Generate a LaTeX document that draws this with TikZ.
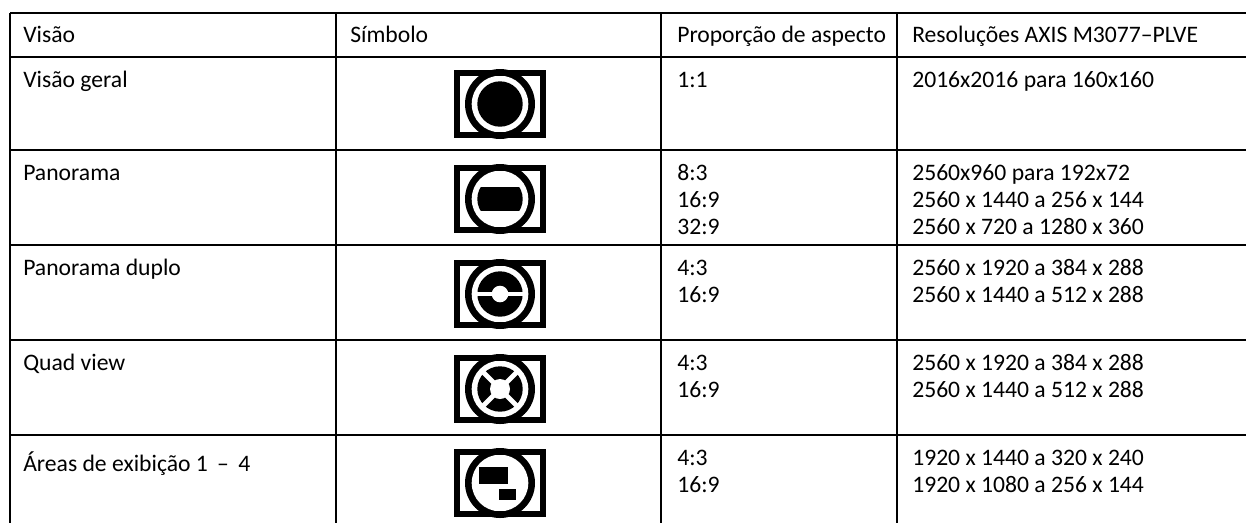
\documentclass[tikz,border=0pt]{standalone}
\usepackage{fontspec}
\setmainfont{Carlito}
\tikzset{x=0.0264583cm,y=-0.0264583cm,
 rule/.style={line width=1.6pt,black},
 lab/.style={anchor=base west,inner sep=0pt,font=\fontsize{17.8pt}{20pt}\selectfont,text=black}}
\newcommand{\icon}[2]{%
 \begin{scope}[shift={(454,#1)}]
 \fill[black] (0,0) rectangle (92,68);
 \fill[white] (5.7,5.7) rectangle (86.3,62.3);
 \fill[black] (46,34) circle (35);
 \fill[white] (46,34) circle (28.3);
 \fill[black] (0,0) rectangle (92,5.7);
 \fill[black] (0,62.3) rectangle (92,68);
 #2
 \end{scope}}
\begin{document}
\begin{tikzpicture}
\useasboundingbox (0,0) rectangle (1246,523);
\fill[white] (0,0) rectangle (1246,523);
\foreach \y in {13,57,150,245,340,435} \draw[rule] (10,\y) -- (1246,\y);
\foreach \x in {10,336,661,897} \draw[rule] (\x,13) -- (\x,523);
% icons
\icon{70}{\fill[black] (46,34) circle (22.7);}
\icon{165}{\begin{scope}\clip (46,34) circle (22.7);\fill[black] (20,22.3) rectangle (72,45.7);\end{scope}}
\icon{260}{\fill[black] (46,34) circle (22.7);\fill[white] (22,31.7) rectangle (70,36.3);\fill[white] (46,34) circle (8.3);}
\icon{355}{\fill[black] (46,34) circle (22.7);
 \draw[white,line width=3.6pt] (46,34) ++(-18,-18) -- ++(36,36) (46,34) ++(18,-18) -- ++(-36,36);
 \fill[white] (46,34) circle (10);}
\icon{449}{\fill[black] (25.3,18.3) rectangle (54,35);\fill[black] (45,40) rectangle (62,51);}
% text
\node[lab] (h1) at (23,42.7) {Visão};
\node[lab] (h2) at (350,42.7) {Símbolo};
\node[lab] (h3) at (677,42.7) {Proporção de aspecto};
\node[lab] (h4) at (912,42.7) {Resoluções AXIS M3077–PLVE};
\node[lab] (a1) at (23,87) {Visão geral};
\node[lab] (a2) at (23,180) {Panorama};
\node[lab] (a3) at (23,275) {Panorama duplo};
\node[lab] (a4) at (23,370) {Quad view};
\node[lab] (a5) at (23,471) {Áreas de exibição 1 \,–\, 4};
\node[lab] (b1) at (677,87) {1:1};
\node[lab] (b2) at (677,180) {8:3};
\node[lab] (b3) at (677,207) {16:9};
\node[lab] (b4) at (677,234) {32:9};
\node[lab] (b5) at (677,275) {4:3};
\node[lab] (b6) at (677,302) {16:9};
\node[lab] (b7) at (677,370) {4:3};
\node[lab] (b8) at (677,397) {16:9};
\node[lab] (b9) at (677,465) {4:3};
\node[lab] (b10) at (677,492) {16:9};
\node[lab] (c1) at (912,87) {2016x2016 para 160x160};
\node[lab] (c2) at (912,180) {2560x960 para 192x72};
\node[lab] (c3) at (912,207) {2560 x 1440 a 256 x 144};
\node[lab] (c4) at (912,234) {2560 x 720 a 1280 x 360};
\node[lab] (c5) at (912,275) {2560 x 1920 a 384 x 288};
\node[lab] (c6) at (912,302) {2560 x 1440 a 512 x 288};
\node[lab] (c7) at (912,370) {2560 x 1920 a 384 x 288};
\node[lab] (c8) at (912,397) {2560 x 1440 a 512 x 288};
\node[lab] (c9) at (912,465) {1920 x 1440 a 320 x 240};
\node[lab] (c10) at (912,492) {1920 x 1080 a 256 x 144};
\end{tikzpicture}
\end{document}
